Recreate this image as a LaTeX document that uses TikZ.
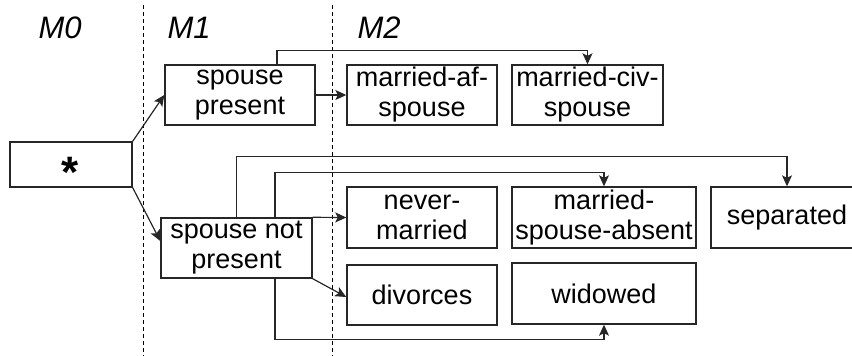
\documentclass[tikz,border=0pt]{standalone}
\usepackage{fontspec}
\setmainfont{Liberation Sans}
\usetikzlibrary{arrows.meta}
\begin{document}
\begin{tikzpicture}[x=1pt,y=-1pt,
  box/.style={draw=black!85, line width=1.4pt, inner sep=0pt, align=center,
    font=\fontsize{27}{30}\selectfont},
  arr/.style={line width=1.2pt, draw=black!85,
    -{Stealth[length=11pt,width=10pt,inset=2.5pt]}},
  sep line/.style={line width=1pt, dash pattern=on 4pt off 3pt},
  level/.style={anchor=base west, font=\fontsize{31}{34}\selectfont\itshape}]
\useasboundingbox (0,0) rectangle (852,356);
\clip (0,0) rectangle (852,356);

% level separators and headings
\draw[sep line] (143,5) -- (143,356);
\draw[sep line] (332,5) -- (332,356);
\node[level] (m0) at (35,38) {M0};
\node[level] (m1) at (164,38) {M1};
\node[level] (m2) at (354,38) {M2};

% root
\node[box, minimum width=122pt, minimum height=45pt] (star) at (71,164.5) {};
\node[anchor=base, font=\fontsize{44}{44}\selectfont\bfseries] (ast) at (70.5,187) {*};

% first level
\node[box, minimum width=150pt, minimum height=60pt] (sp) at (240,95) {spouse\\present};
\node[box, minimum width=151pt, minimum height=60pt] (snp) at (236.5,248) {spouse not\\present};

% second level
\node[box, minimum width=150pt, minimum height=60pt] (maf) at (422,95) {married-af-\\spouse};
\node[box, minimum width=151pt, minimum height=60pt] (mciv) at (587.5,95) {married-civ-\\spouse};
\node[box, minimum width=150pt, minimum height=61pt] (nm) at (422,217.5) {never-\\married};
\node[box, minimum width=184pt, minimum height=61pt] (msa) at (604,217.5) {married-\\spouse-absent};
\node[box, minimum width=152pt, minimum height=61pt] (sepd) at (787,217.5) {separated};
\node[box, minimum width=150pt, minimum height=60pt] (div) at (422,295) {divorces};
\node[box, minimum width=184pt, minimum height=61pt] (wid) at (604,293.5) {widowed};

% connectors
\draw[arr] (star.north east) -- (sp.west);
\draw[arr] (star.south east) -- ([yshift=7pt]snp.west);
\draw[arr] (sp.east) -- (maf.west);
\draw[arr] ([xshift=37pt]sp.north) -- ++(0,-14) -| (mciv.north);
\draw[arr] (snp.north) -- ++(0,-61) -| (sepd.north);
\draw[arr] ([xshift=38.5pt]snp.north) -- ++(0,-45) -| (msa.north);
\draw[arr] (snp.north east) -- (nm.west);
\draw[arr] (snp.south east) -- ([yshift=-2pt]div.west);
\draw[arr] ([xshift=38.5pt]snp.south) -- ++(0,61) -| (wid.south);
\end{tikzpicture}
\end{document}
